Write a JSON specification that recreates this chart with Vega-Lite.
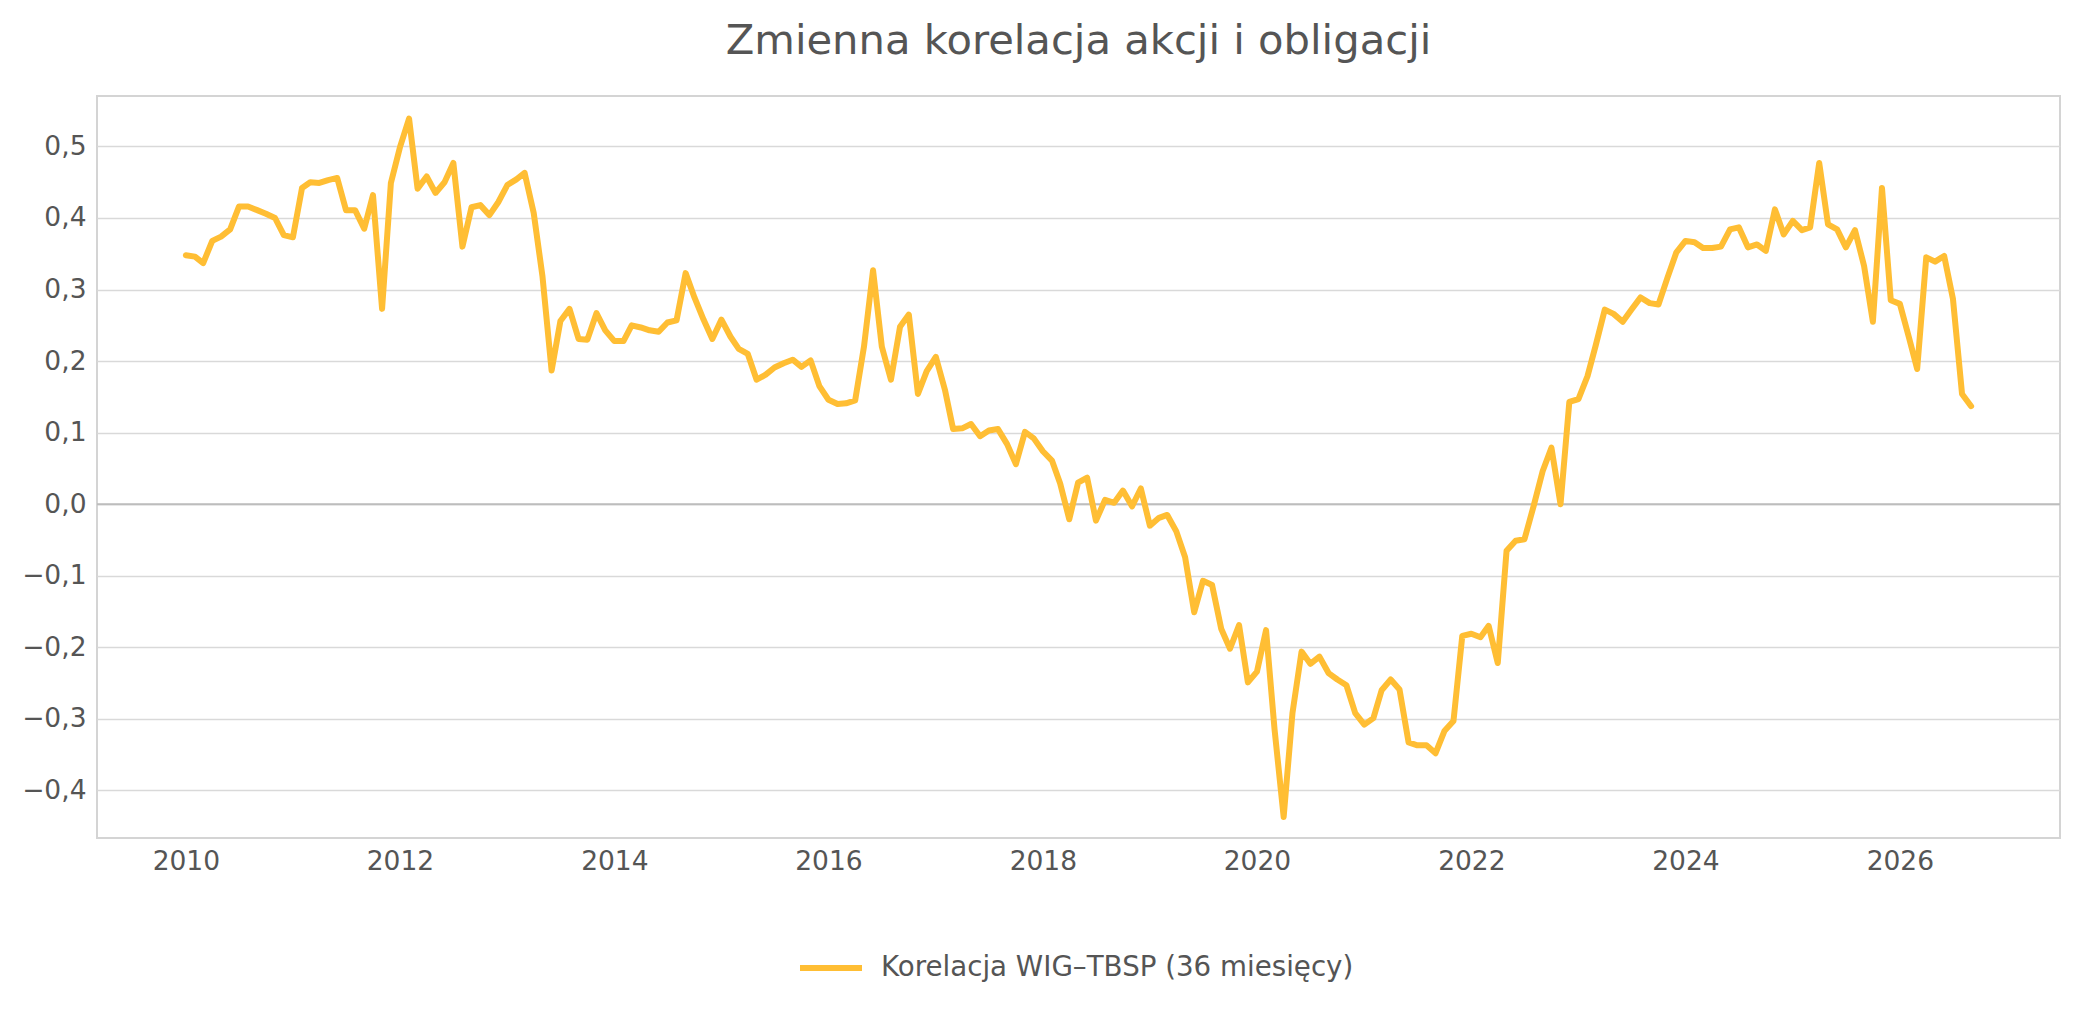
{
  "$schema": "https://vega.github.io/schema/vega-lite/v6.json",
  "width": 1963,
  "height": 742,
  "autosize": {"type": "none"},
  "padding": {"left": 97, "top": 96, "right": 19, "bottom": 174},
  "background": "white",
  "title": {"text": "Zmienna korelacja akcji i obligacji", "fontSize": 41.7, "font": "DejaVu Sans", "fontWeight": "normal", "color": "#555555", "anchor": "middle", "offset": 33},
  "config": {
    "font": "DejaVu Sans",
    "view": {"stroke": "#d4d4d4", "strokeWidth": 2},
    "axis": {"labelFont": "DejaVu Sans", "labelFontSize": 26.5, "labelColor": "#555555", "ticks": false, "domain": false, "title": null}
  },
  "data": {"values": [
    {"date": "2010-01-01", "corr": 0.348}, {"date": "2010-02-01", "corr": 0.346}, {"date": "2010-03-01", "corr": 0.337}, {"date": "2010-04-01", "corr": 0.368}, {"date": "2010-05-01", "corr": 0.374}, {"date": "2010-06-01", "corr": 0.384}, {"date": "2010-07-01", "corr": 0.416}, {"date": "2010-08-01", "corr": 0.416}, {"date": "2010-09-01", "corr": 0.411}, {"date": "2010-10-01", "corr": 0.406}, {"date": "2010-11-01", "corr": 0.400}, {"date": "2010-12-01", "corr": 0.376},
    {"date": "2011-01-01", "corr": 0.373}, {"date": "2011-02-01", "corr": 0.442}, {"date": "2011-03-01", "corr": 0.450}, {"date": "2011-04-01", "corr": 0.449}, {"date": "2011-05-01", "corr": 0.453}, {"date": "2011-06-01", "corr": 0.456}, {"date": "2011-07-01", "corr": 0.411}, {"date": "2011-08-01", "corr": 0.411}, {"date": "2011-09-01", "corr": 0.385}, {"date": "2011-10-01", "corr": 0.432}, {"date": "2011-11-01", "corr": 0.273}, {"date": "2011-12-01", "corr": 0.449},
    {"date": "2012-01-01", "corr": 0.499}, {"date": "2012-02-01", "corr": 0.539}, {"date": "2012-03-01", "corr": 0.441}, {"date": "2012-04-01", "corr": 0.458}, {"date": "2012-05-01", "corr": 0.435}, {"date": "2012-06-01", "corr": 0.450}, {"date": "2012-07-01", "corr": 0.477}, {"date": "2012-08-01", "corr": 0.360}, {"date": "2012-09-01", "corr": 0.415}, {"date": "2012-10-01", "corr": 0.418}, {"date": "2012-11-01", "corr": 0.404}, {"date": "2012-12-01", "corr": 0.422},
    {"date": "2013-01-01", "corr": 0.446}, {"date": "2013-02-01", "corr": 0.454}, {"date": "2013-03-01", "corr": 0.463}, {"date": "2013-04-01", "corr": 0.407}, {"date": "2013-05-01", "corr": 0.318}, {"date": "2013-06-01", "corr": 0.187}, {"date": "2013-07-01", "corr": 0.256}, {"date": "2013-08-01", "corr": 0.273}, {"date": "2013-09-01", "corr": 0.231}, {"date": "2013-10-01", "corr": 0.230}, {"date": "2013-11-01", "corr": 0.267}, {"date": "2013-12-01", "corr": 0.243},
    {"date": "2014-01-01", "corr": 0.228}, {"date": "2014-02-01", "corr": 0.228}, {"date": "2014-03-01", "corr": 0.250}, {"date": "2014-04-01", "corr": 0.247}, {"date": "2014-05-01", "corr": 0.243}, {"date": "2014-06-01", "corr": 0.241}, {"date": "2014-07-01", "corr": 0.254}, {"date": "2014-08-01", "corr": 0.257}, {"date": "2014-09-01", "corr": 0.323}, {"date": "2014-10-01", "corr": 0.289}, {"date": "2014-11-01", "corr": 0.258}, {"date": "2014-12-01", "corr": 0.231},
    {"date": "2015-01-01", "corr": 0.258}, {"date": "2015-02-01", "corr": 0.234}, {"date": "2015-03-01", "corr": 0.217}, {"date": "2015-04-01", "corr": 0.210}, {"date": "2015-05-01", "corr": 0.174}, {"date": "2015-06-01", "corr": 0.181}, {"date": "2015-07-01", "corr": 0.191}, {"date": "2015-08-01", "corr": 0.197}, {"date": "2015-09-01", "corr": 0.202}, {"date": "2015-10-01", "corr": 0.192}, {"date": "2015-11-01", "corr": 0.201}, {"date": "2015-12-01", "corr": 0.165},
    {"date": "2016-01-01", "corr": 0.146}, {"date": "2016-02-01", "corr": 0.140}, {"date": "2016-03-01", "corr": 0.141}, {"date": "2016-04-01", "corr": 0.145}, {"date": "2016-05-01", "corr": 0.220}, {"date": "2016-06-01", "corr": 0.327}, {"date": "2016-07-01", "corr": 0.220}, {"date": "2016-08-01", "corr": 0.174}, {"date": "2016-09-01", "corr": 0.248}, {"date": "2016-10-01", "corr": 0.265}, {"date": "2016-11-01", "corr": 0.154}, {"date": "2016-12-01", "corr": 0.186},
    {"date": "2017-01-01", "corr": 0.206}, {"date": "2017-02-01", "corr": 0.160}, {"date": "2017-03-01", "corr": 0.105}, {"date": "2017-04-01", "corr": 0.106}, {"date": "2017-05-01", "corr": 0.112}, {"date": "2017-06-01", "corr": 0.095}, {"date": "2017-07-01", "corr": 0.103}, {"date": "2017-08-01", "corr": 0.105}, {"date": "2017-09-01", "corr": 0.084}, {"date": "2017-10-01", "corr": 0.056}, {"date": "2017-11-01", "corr": 0.101}, {"date": "2017-12-01", "corr": 0.092},
    {"date": "2018-01-01", "corr": 0.074}, {"date": "2018-02-01", "corr": 0.061}, {"date": "2018-03-01", "corr": 0.029}, {"date": "2018-04-01", "corr": -0.021}, {"date": "2018-05-01", "corr": 0.030}, {"date": "2018-06-01", "corr": 0.037}, {"date": "2018-07-01", "corr": -0.023}, {"date": "2018-08-01", "corr": 0.006}, {"date": "2018-09-01", "corr": 0.002}, {"date": "2018-10-01", "corr": 0.019}, {"date": "2018-11-01", "corr": -0.003}, {"date": "2018-12-01", "corr": 0.022},
    {"date": "2019-01-01", "corr": -0.030}, {"date": "2019-02-01", "corr": -0.019}, {"date": "2019-03-01", "corr": -0.015}, {"date": "2019-04-01", "corr": -0.038}, {"date": "2019-05-01", "corr": -0.074}, {"date": "2019-06-01", "corr": -0.151}, {"date": "2019-07-01", "corr": -0.107}, {"date": "2019-08-01", "corr": -0.113}, {"date": "2019-09-01", "corr": -0.174}, {"date": "2019-10-01", "corr": -0.202}, {"date": "2019-11-01", "corr": -0.169}, {"date": "2019-12-01", "corr": -0.249},
    {"date": "2020-01-01", "corr": -0.234}, {"date": "2020-02-01", "corr": -0.176}, {"date": "2020-03-01", "corr": -0.315}, {"date": "2020-04-01", "corr": -0.437}, {"date": "2020-05-01", "corr": -0.292}, {"date": "2020-06-01", "corr": -0.206}, {"date": "2020-07-01", "corr": -0.223}, {"date": "2020-08-01", "corr": -0.213}, {"date": "2020-09-01", "corr": -0.236}, {"date": "2020-10-01", "corr": -0.245}, {"date": "2020-11-01", "corr": -0.253}, {"date": "2020-12-01", "corr": -0.292},
    {"date": "2021-01-01", "corr": -0.308}, {"date": "2021-02-01", "corr": -0.299}, {"date": "2021-03-01", "corr": -0.260}, {"date": "2021-04-01", "corr": -0.245}, {"date": "2021-05-01", "corr": -0.259}, {"date": "2021-06-01", "corr": -0.333}, {"date": "2021-07-01", "corr": -0.337}, {"date": "2021-08-01", "corr": -0.337}, {"date": "2021-09-01", "corr": -0.348}, {"date": "2021-10-01", "corr": -0.317}, {"date": "2021-11-01", "corr": -0.303}, {"date": "2021-12-01", "corr": -0.184},
    {"date": "2022-01-01", "corr": -0.181}, {"date": "2022-02-01", "corr": -0.186}, {"date": "2022-03-01", "corr": -0.170}, {"date": "2022-04-01", "corr": -0.222}, {"date": "2022-05-01", "corr": -0.065}, {"date": "2022-06-01", "corr": -0.051}, {"date": "2022-07-01", "corr": -0.049}, {"date": "2022-08-01", "corr": -0.003}, {"date": "2022-09-01", "corr": 0.046}, {"date": "2022-10-01", "corr": 0.079}, {"date": "2022-11-01", "corr": 0.000}, {"date": "2022-12-01", "corr": 0.143},
    {"date": "2023-01-01", "corr": 0.147}, {"date": "2023-02-01", "corr": 0.179}, {"date": "2023-03-01", "corr": 0.222}, {"date": "2023-04-01", "corr": 0.272}, {"date": "2023-05-01", "corr": 0.266}, {"date": "2023-06-01", "corr": 0.255}, {"date": "2023-07-01", "corr": 0.272}, {"date": "2023-08-01", "corr": 0.289}, {"date": "2023-09-01", "corr": 0.281}, {"date": "2023-10-01", "corr": 0.279}, {"date": "2023-11-01", "corr": 0.317}, {"date": "2023-12-01", "corr": 0.352},
    {"date": "2024-01-01", "corr": 0.368}, {"date": "2024-02-01", "corr": 0.366}, {"date": "2024-03-01", "corr": 0.358}, {"date": "2024-04-01", "corr": 0.358}, {"date": "2024-05-01", "corr": 0.360}, {"date": "2024-06-01", "corr": 0.384}, {"date": "2024-07-01", "corr": 0.387}, {"date": "2024-08-01", "corr": 0.359}, {"date": "2024-09-01", "corr": 0.363}, {"date": "2024-10-01", "corr": 0.354}, {"date": "2024-11-01", "corr": 0.412}, {"date": "2024-12-01", "corr": 0.377},
    {"date": "2025-01-01", "corr": 0.396}, {"date": "2025-02-01", "corr": 0.383}, {"date": "2025-03-01", "corr": 0.387}, {"date": "2025-04-01", "corr": 0.477}, {"date": "2025-05-01", "corr": 0.391}, {"date": "2025-06-01", "corr": 0.384}, {"date": "2025-07-01", "corr": 0.359}, {"date": "2025-08-01", "corr": 0.383}, {"date": "2025-09-01", "corr": 0.333}, {"date": "2025-10-01", "corr": 0.255}, {"date": "2025-11-01", "corr": 0.442}, {"date": "2025-12-01", "corr": 0.285},
    {"date": "2026-01-01", "corr": 0.280}, {"date": "2026-02-01", "corr": 0.233}, {"date": "2026-03-01", "corr": 0.189}, {"date": "2026-04-01", "corr": 0.345}, {"date": "2026-05-01", "corr": 0.339}, {"date": "2026-06-01", "corr": 0.347}, {"date": "2026-07-01", "corr": 0.287}, {"date": "2026-08-01", "corr": 0.154}, {"date": "2026-09-01", "corr": 0.137}
  ]},
  "layer": [
    {
      "data": {"values": [{"level": 0}]},
      "mark": {"type": "rule", "color": "#bdbdbd", "strokeWidth": 2},
      "encoding": {"y": {"field": "level", "type": "quantitative"}}
    },
    {
      "mark": {"type": "line", "strokeWidth": 6, "strokeCap": "round", "strokeJoin": "round"},
      "encoding": {
        "x": {
          "field": "date", "type": "temporal",
          "scale": {"type": "utc", "domain": [{"year": 2009, "month": 3, "date": 4, "utc": true}, {"year": 2027, "month": 7, "date": 1, "utc": true}]},
          "axis": {"grid": false, "format": "%Y", "labelPadding": 10, "labelFlush": false,
            "values": [{"year": 2010, "utc": true}, {"year": 2012, "utc": true}, {"year": 2014, "utc": true}, {"year": 2016, "utc": true}, {"year": 2018, "utc": true}, {"year": 2020, "utc": true}, {"year": 2022, "utc": true}, {"year": 2024, "utc": true}, {"year": 2026, "utc": true}]}
        },
        "y": {
          "field": "corr", "type": "quantitative",
          "scale": {"domain": [-0.4665, 0.5705], "nice": false, "zero": false},
          "axis": {"grid": true, "gridColor": "#d9d9d9", "gridWidth": 1.3, "labelPadding": 11,
            "values": [-0.4, -0.3, -0.2, -0.1, 0, 0.1, 0.2, 0.3, 0.4, 0.5],
            "labelExpr": "replace(format(datum.value, '.1f'), '.', ',')"}
        },
        "color": {
          "datum": "Korelacja WIG–TBSP (36 miesięcy)",
          "scale": {"range": ["#FFBE34"]},
          "legend": {"orient": "none", "legendX": 700, "legendY": 838, "title": null, "symbolType": "stroke", "symbolSize": 3844, "symbolStrokeWidth": 6, "symbolStrokeColor": "#FFBE34", "labelFontSize": 27.7, "labelLimit": 2000, "labelColor": "#555555", "labelFont": "DejaVu Sans", "labelOffset": 16, "padding": 0}
        }
      }
    }
  ]
}
